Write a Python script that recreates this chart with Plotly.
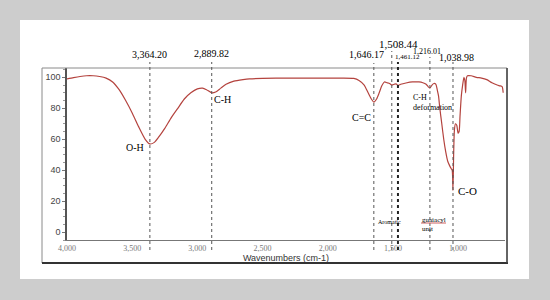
import plotly.graph_objects as go

# FTIR spectrum (wavenumber cm-1, transmittance %)
wavenumber = [4000, 3950, 3900, 3850, 3800, 3750, 3700, 3650, 3600, 3550, 3500, 3450, 3400, 3364, 3330,
              3300, 3250, 3200, 3150, 3100, 3050, 3000, 2960, 2930, 2890, 2860, 2820, 2780, 2720,
              2650, 2600, 2500, 2300, 2100, 1900, 1800, 1760, 1720, 1690, 1665, 1646, 1625, 1605,
              1585, 1565, 1545, 1525, 1508, 1490, 1475, 1461, 1440, 1400, 1350, 1300, 1270, 1245,
              1230, 1216, 1200, 1185, 1170, 1160, 1150, 1140, 1125, 1110, 1095, 1080, 1065, 1052,
              1045, 1039, 1034, 1028, 1020, 1010, 1000, 992, 985, 975, 965, 955, 948, 942, 936,
              928, 900, 860, 820, 780, 740, 700, 680, 662, 654]
transmittance = [99, 99.8, 100.5, 101, 101, 100.5, 99.5, 97, 92, 85, 77, 68, 60, 57, 58,
                 61, 67, 74, 80, 86, 90, 92.5, 93, 92, 90, 90.5, 93, 95.5, 97.5,
                 98.5, 99, 99.3, 99.5, 99.5, 99.5, 99.3, 98, 95, 90, 86, 84, 86, 90,
                 94.5, 97, 96.5, 96, 95, 95.5, 95.8, 94.8, 95.5, 96.3, 97, 97, 96.5, 95.5,
                 94, 93, 95, 96, 95.5, 92, 88, 80, 70, 60, 52, 46, 43, 41,
                 40, 27, 50, 66, 70, 69, 64, 65, 75, 88, 95, 100, 98, 90, 99.5,
                 101, 101, 100, 99.5, 98.5, 96.5, 95, 94.5, 94, 90]

peak_positions = [3364.20, 2889.82, 1646.17, 1508.44, 1461.12, 1216.01, 1038.98]
peak_labels = ["3,364.20", "2,889.82", "1,646.17", "1,508.44", "1,461.12", "1,216.01", "1,038.98"]

x_ticks = [4000, 3500, 3000, 2500, 2000, 1500, 1000]
x_tick_text = ["4,000", "3,500", "3,000", "2,500", "2,000", "1,500", "1,000"]
y_ticks = [0, 20, 40, 60, 80, 100]

fig = go.Figure()
fig.add_trace(go.Scatter(x=wavenumber, y=transmittance, mode="lines",
                         line=dict(color="#b4433e", width=1.2, shape="spline", smoothing=0.6),
                         hoverinfo="skip", showlegend=False))

L, R, T, B = 67, 45, 68, 60
pw, ph = 550 - L - R, 300 - T - B

def px(x):
    return (x - L) / pw

def py(y):
    return (300 - B - y) / ph

shapes = []
# white card
shapes.append(dict(type="rect", xref="paper", yref="paper", x0=px(20), x1=px(529), y0=py(279), y1=py(20),
                   fillcolor="white", line=dict(width=0), layer="below"))
# frame
shapes.append(dict(type="rect", xref="paper", yref="paper", x0=px(42), x1=px(507), y0=py(263), y1=py(68),
                   fillcolor="rgba(0,0,0,0)", line=dict(color="#8a8a8a", width=1), layer="above"))
shapes.append(dict(type="line", xref="paper", yref="paper", x0=px(42), x1=px(508), y0=py(263), y1=py(263),
                   line=dict(color="#333333", width=2)))
shapes.append(dict(type="line", xref="paper", yref="paper", x0=px(507), x1=px(507), y0=py(263), y1=py(68),
                   line=dict(color="#444444", width=1.5)))

tops = [62, 62, 63, 51, 62, 57, 62]
for i, (w, t) in enumerate(zip(peak_positions, tops)):
    thick = (i == 4)
    shapes.append(dict(type="line", xref="x", yref="paper", x0=w, x1=w, y0=py(250), y1=py(t),
                       line=dict(color="#222222" if thick else "#555555", width=2 if thick else 1, dash="dot")))

annotations = []
lab_y = [54, 53, 54, 44, 57, 51, 57]
lab_size = [10, 10, 10, 11, 7, 8, 10]
lab_shift = [0, 0, -7, 7, 10, -3, 4]
for i, (w, lab) in enumerate(zip(peak_positions, peak_labels)):
    annotations.append(dict(x=w, y=py(lab_y[i]), xref="x", yref="paper", text=lab, showarrow=False,
                            xanchor="center", yanchor="middle", xshift=lab_shift[i],
                            font=dict(family="Liberation Serif", size=lab_size[i], color="#000000")))

band_text = ["O-H", "C-H", "C=C", "C-H<br>deformation", "C-O", "Aromatic", "guaiacyl<br>unit"]
band_px = [124, 212, 350, 411, 456, 376, 420]
band_py = [147, 99, 117, 102, 191, 222, 224]
band_size = [10, 10, 10, 8, 11, 6, 7]
for t, bx, by, s in zip(band_text, band_px, band_py, band_size):
    annotations.append(dict(x=px(bx), y=py(by), xref="paper", yref="paper", text=t, showarrow=False,
                            xanchor="left", yanchor="middle", align="left",
                            font=dict(family="Liberation Serif", size=s, color="#000000")))
shapes.append(dict(type="line", xref="paper", yref="paper", x0=px(421), x1=px(446), y0=py(223), y1=py(223),
                   line=dict(color="#d06060", width=1)))

fig.update_layout(
    width=550, height=300,
    margin=dict(l=L, r=R, t=T, b=B),
    paper_bgcolor="#cdcdcd",
    plot_bgcolor="rgba(0,0,0,0)",
    shapes=shapes,
    annotations=annotations,
    xaxis=dict(range=[4000, 640], tickvals=x_ticks, ticktext=x_tick_text, showgrid=False, zeroline=False,
               showline=True, linecolor="#777777", linewidth=1, ticks="",
               tickfont=dict(family="Liberation Serif", size=8, color="#777777"),
               title=dict(text="Wavenumbers (cm-1)", standoff=2,
                          font=dict(family="Liberation Sans", size=9, color="#333333"))),
    yaxis=dict(range=[-5, 106], tickvals=y_ticks, showgrid=False, zeroline=False,
               showline=True, linecolor="#555555", linewidth=1.5, ticks="outside", ticklen=3,
               tickcolor="#777777",
               minor=dict(ticks="outside", ticklen=2, dtick=5, tickcolor="#999999"),
               tickfont=dict(family="Liberation Sans", size=9, color="#444444")),
)

fig.write_html("out.html")
